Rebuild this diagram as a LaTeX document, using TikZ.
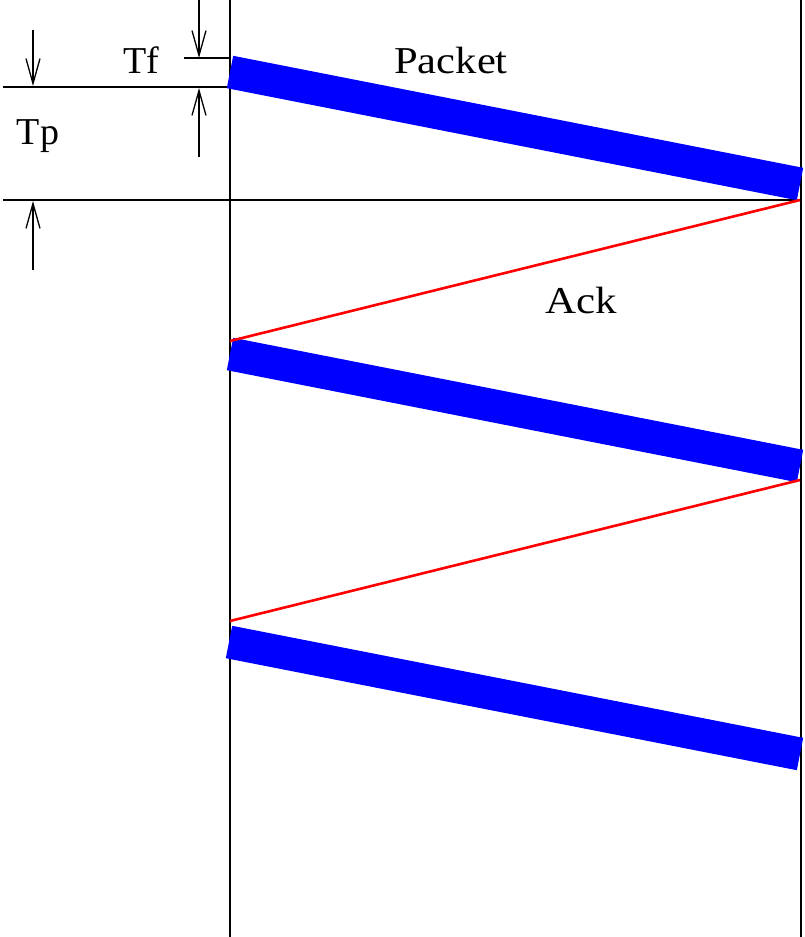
\documentclass[tikz,border=0pt]{standalone}
\usepackage{fontspec}
\setmainfont{Liberation Serif}
\usetikzlibrary{arrows.meta,positioning}

\begin{document}
\begin{tikzpicture}[
  x=1pt, y=-1pt,
  rule/.style={draw=black, line width=1.3pt},
  packet/.style={draw=blue, line width=33pt, line cap=butt},
  ack/.style={draw=red, line width=2.6pt},
  dimarrow/.style={rule, -{Straight Barb[length=25pt, width=14pt]}},
  lbl/.style={anchor=base, inner sep=0pt, font=\fontsize{38}{40}\selectfont}
]
\useasboundingbox (0,0) rectangle (804,937);
% time axes of sender and receiver
\coordinate (sendtop) at (230,0);
\coordinate (sendbot) at (230,937);
\coordinate (recvtop) at (801,0);
\coordinate (recvbot) at (801,937);
\draw[rule] (sendtop) -- (sendbot);
\draw[rule] (recvtop) -- (recvbot);
% reference lines
\coordinate (tfleft) at (184,58);
\coordinate (tfright) at (230,58);
\coordinate (tpleft) at (3,87);
\coordinate (tpright) at (230,87);
\coordinate (endleft) at (3,200);
\coordinate (endright) at (801,200);
\draw[rule] (tfleft) -- (tfright);
\draw[rule] (tpleft) -- (tpright);
\draw[rule] (endleft) -- (endright);
% dimension arrows
\coordinate (tfa) at (199,0);
\coordinate (tfb) at (199,58);
\coordinate (tfc) at (199,157);
\coordinate (tfd) at (199,88);
\coordinate (tpa) at (33,30);
\coordinate (tpb) at (33,86);
\coordinate (tpc) at (33,270);
\coordinate (tpd) at (33,201);
\draw[dimarrow] (tfa) -- (tfb);
\draw[dimarrow] (tfc) -- (tfd);
\draw[dimarrow] (tpa) -- (tpb);
\draw[dimarrow] (tpc) -- (tpd);
% packets
\coordinate (pkt1s) at (230,72);
\coordinate (pkt1e) at (800,184);
\coordinate (pkt2s) at (230,354);
\coordinate (pkt2e) at (800,466);
\coordinate (pkt3s) at (229,642);
\coordinate (pkt3e) at (800,754);
\draw[packet] (pkt1s) -- (pkt1e);
\draw[packet] (pkt2s) -- (pkt2e);
\draw[packet] (pkt3s) -- (pkt3e);
% acks
\coordinate (ack1s) at (800,200);
\coordinate (ack1e) at (230,341);
\coordinate (ack2s) at (800,480);
\coordinate (ack2e) at (230,621);
\draw[ack] (ack1s) -- (ack1e);
\draw[ack] (ack2s) -- (ack2e);
% labels
\node[lbl] (tf) at (141,73) {Tf};
\node[lbl] (tp) at (38,144) {Tp};
\node[lbl] (pktlabel) at (451,73) {\scalebox{1.12}[1]{Packet}};
\node[lbl] (acklabel) at (581,313) {\scalebox{1.13}[1]{Ack}};
\end{tikzpicture}
\end{document}
